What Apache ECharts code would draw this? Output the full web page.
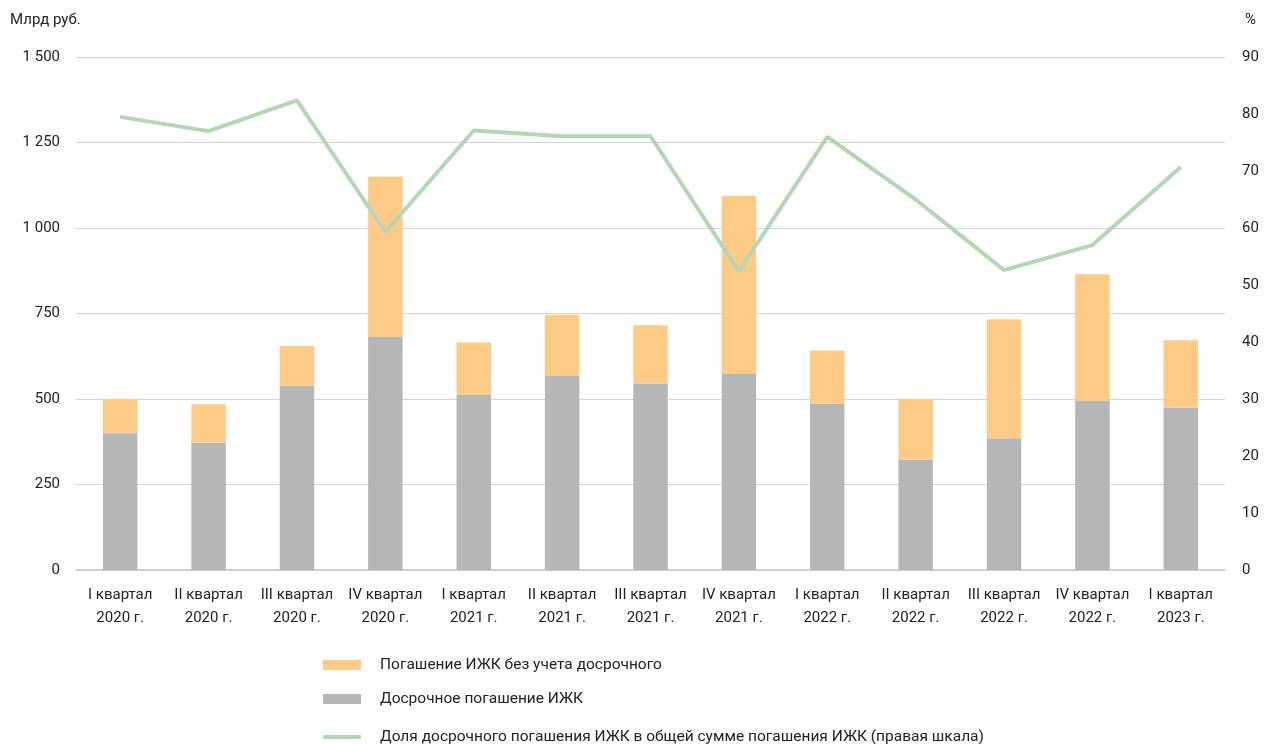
<!DOCTYPE html>
<html>
<head>
<meta charset="utf-8">
<script src="https://cdn.jsdelivr.net/npm/echarts@6/dist/echarts.min.js"></script>
<style>
html,body{margin:0;padding:0;background:#fff;}
#chart{width:1269px;height:744px;}
</style>
</head>
<body>
<div id="chart"></div>
<script>
const categories = [
  "I квартал\n2020 г.", "II квартал\n2020 г.", "III квартал\n2020 г.", "IV квартал\n2020 г.",
  "I квартал\n2021 г.", "II квартал\n2021 г.", "III квартал\n2021 г.", "IV квартал\n2021 г.",
  "I квартал\n2022 г.", "II квартал\n2022 г.", "III квартал\n2022 г.", "IV квартал\n2022 г.",
  "I квартал\n2023 г."
];
const earlyRepayment = [400, 372, 539, 681, 512, 567, 545, 573, 486, 323, 385, 494, 475];
const regularRepayment = [100, 113, 116, 469, 153, 179, 171, 521, 156, 176, 348, 371, 197];
const earlyShare = [79.5, 77.0, 82.4, 59.3, 77.1, 76.1, 76.1, 52.4, 76.0, 65.0, 52.6, 57.0, 70.7];

const seriesNames = [
  "Погашение ИЖК без учета досрочного",
  "Досрочное погашение ИЖК",
  "Доля досрочного погашения ИЖК в общей сумме погашения ИЖК (правая шкала)"
];
const leftAxisName = "Млрд руб.";
const rightAxisName = "%";

const FONT = "Roboto";
const TXT = "#222222";
const legendText = {fontFamily: FONT, fontSize: 15.5, color: TXT, padding: [0, 0, 0, 14]};

const chart = echarts.init(document.getElementById('chart'), null, {renderer: 'canvas'});
chart.setOption({
  animation: false,
  textStyle: {fontFamily: FONT},
  grid: {left: 76, right: 44, top: 57, bottom: 174, containLabel: false},
  legend: [
    {left: 318, top: 652, itemWidth: 38, itemHeight: 10, data: [{name: seriesNames[0], icon: 'rect'}], textStyle: legendText},
    {left: 318, top: 686, itemWidth: 38, itemHeight: 10, data: [{name: seriesNames[1], icon: 'rect'}], textStyle: legendText},
    {left: 318, top: 724, itemWidth: 38, itemHeight: 4, data: [{name: seriesNames[2], icon: 'roundRect'}], textStyle: legendText}
  ],
  xAxis: {
    type: 'category',
    data: categories,
    axisTick: {show: false},
    axisLine: {lineStyle: {color: '#c8c8c8', width: 1.5}},
    axisLabel: {fontFamily: FONT, fontSize: 15, color: TXT, lineHeight: 23, margin: 14, interval: 0}
  },
  yAxis: [
    {
      type: 'value', min: 0, max: 1500, interval: 250,
      name: leftAxisName, nameLocation: 'end',
      nameTextStyle: {fontFamily: FONT, fontSize: 15, color: TXT, align: 'left', padding: [0, 0, 14, -66]},
      axisLine: {show: false}, axisTick: {show: false},
      splitLine: {lineStyle: {color: '#d4d4d4', width: 1.2}},
      axisLabel: {
        fontFamily: FONT, fontSize: 15, color: TXT, margin: 16,
        formatter: v => v >= 1000 ? String(v).replace(/(\d)(\d{3})$/, '$1 $2') : String(v)
      }
    },
    {
      type: 'value', min: 0, max: 90, interval: 10,
      name: rightAxisName, nameLocation: 'end',
      nameTextStyle: {fontFamily: FONT, fontSize: 15, color: TXT, align: 'left', padding: [0, 0, 14, 20]},
      axisLine: {show: false}, axisTick: {show: false},
      splitLine: {show: false},
      axisLabel: {fontFamily: FONT, fontSize: 15, color: TXT, margin: 17}
    }
  ],
  series: [
    {
      name: seriesNames[1], type: 'bar', stack: 'total', barWidth: '39%',
      data: earlyRepayment, itemStyle: {color: '#b5b6b8'}
    },
    {
      name: seriesNames[0], type: 'bar', stack: 'total', barWidth: '39%',
      data: regularRepayment, itemStyle: {color: '#fecb87'}
    },
    {
      name: seriesNames[2], type: 'line', yAxisIndex: 1, data: earlyShare,
      symbol: 'none', z: 5,
      lineStyle: {color: '#b5d5b8', width: 4},
      itemStyle: {color: '#b5d5b8'}
    }
  ]
});
</script>
</body>
</html>
